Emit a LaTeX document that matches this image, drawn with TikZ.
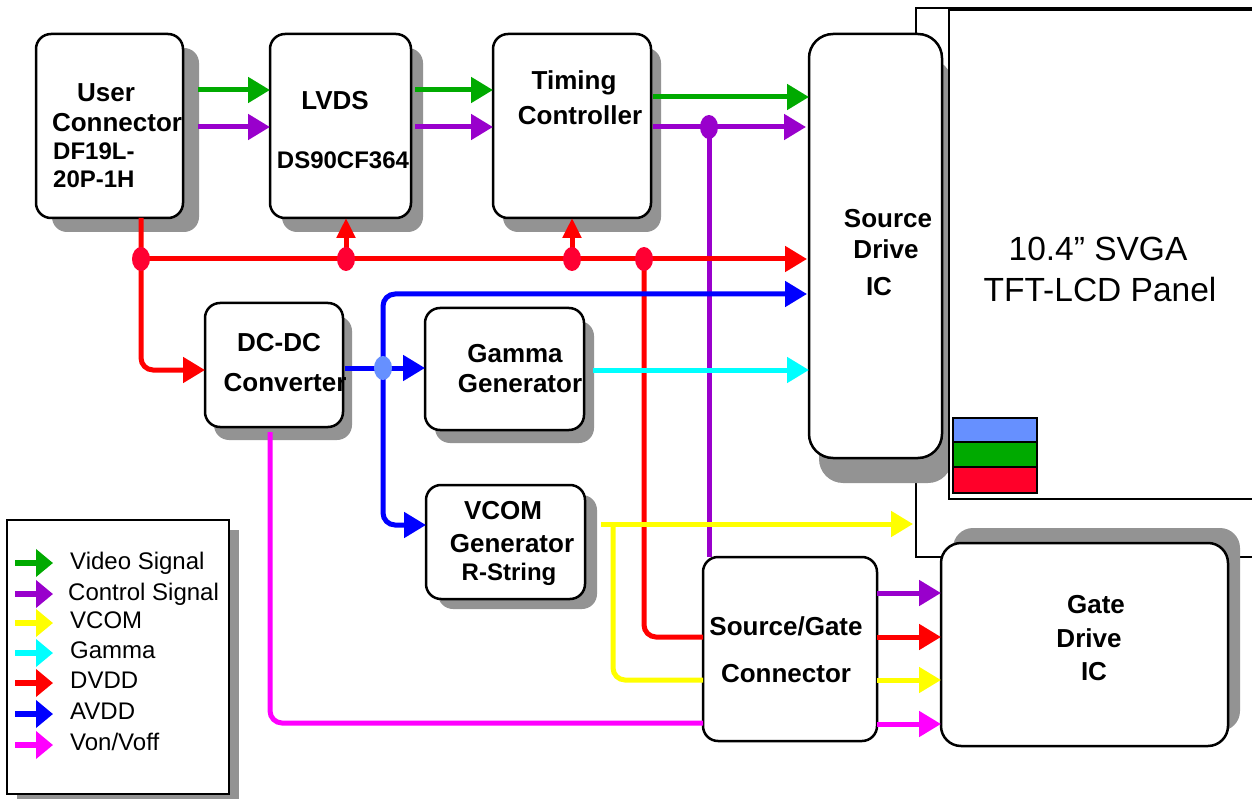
\documentclass[tikz,border=0pt]{standalone}
\usepackage{fontspec}
\setmainfont{Liberation Sans}
\usetikzlibrary{arrows.meta,shadows,calc,shapes.geometric}
\definecolor{cgreen}{HTML}{00AA00}
\definecolor{cpurple}{HTML}{9900CC}
\definecolor{cyellow}{HTML}{FFFF00}
\definecolor{ccyan}{HTML}{00FFFF}
\definecolor{cred}{HTML}{FF0000}
\definecolor{cblue}{HTML}{0000FF}
\definecolor{cmag}{HTML}{FF00FF}
\definecolor{cdot}{HTML}{FF0033}
\definecolor{cbdot}{HTML}{6690FF}
\definecolor{shgray}{HTML}{939393}
\definecolor{pblue}{HTML}{6690FF}
\definecolor{pred}{HTML}{FF0029}
\begin{document}
\begin{tikzpicture}[x=1pt,y=-1pt,
  blk/.style={draw=black, line width=2.5pt, fill=white, rounded corners=15pt, inner sep=0pt, outer sep=0pt},
  shd/.style 2 args={drop shadow={shadow xshift=#1pt, shadow yshift=#2pt, fill=shgray, opacity=1}},
  lbl/.style={font=\fontsize{26}{28}\selectfont\bfseries, anchor=base, inner sep=0pt},
  sml/.style={font=\fontsize{24}{26}\selectfont\bfseries, anchor=base, inner sep=0pt},
  pnl/.style={font=\fontsize{33.5}{36}\selectfont, anchor=base, inner sep=0pt},
  lgt/.style={font=\fontsize{24}{26}\selectfont, anchor=base west, inner sep=0pt},
  wire/.style={line width=5pt},
  sig/.style={line width=5pt, -{Triangle[length=22pt,width=25pt]}},
  upsig/.style={line width=5pt, -{Triangle[length=20pt,width=18pt]}},
  lgsig/.style={line width=6pt, -{Triangle[length=17pt,width=27pt]}},
  jdot/.style={ellipse, minimum width=18pt, minimum height=24pt, inner sep=0pt, draw=none}
]
\useasboundingbox (0,0) rectangle (1252,799);
\clip (0,0) rectangle (1252,799);
\fill[white] (0,0) rectangle (1252,799);

% panel frame and source drive IC
\node[draw, line width=2pt, minimum width=360pt, minimum height=549pt, inner sep=0pt, anchor=north west] (frame) at (915,7) {};
\node[blk, rounded corners=24pt, shd={10}{-25}, minimum width=133pt, minimum height=424pt] (sdi) at (875.5,246) {};
\node[draw, fill=white, line width=2pt, minimum width=330pt, minimum height=489pt, inner sep=0pt, anchor=north west] (panel) at (948,9) {};
\draw[line width=2.5pt, fill=pblue] (953,418) rectangle (1037,442);
\draw[line width=2.5pt, fill=cgreen] (953,442) rectangle (1037,467);
\draw[line width=2.5pt, fill=pred] (953,467) rectangle (1037,493);
\node[pnl] (p1) at (1098,261) {10.4” SVGA};
\node[pnl] (p2) at (1100,302) {TFT-LCD Panel};

% boxes
\node[blk, shd={16}{-14}, minimum width=147pt, minimum height=184pt] (uc) at (109.5,126) {};
\node[blk, shd={12}{-14}, minimum width=141pt, minimum height=184pt] (lvds) at (340.5,126) {};
\node[blk, shd={10}{-14}, minimum width=158pt, minimum height=184pt] (tc) at (572,126) {};
\node[blk, shd={9}{-13}, minimum width=138pt, minimum height=124pt] (dc) at (274,365) {};
\node[blk, shd={10}{-13}, minimum width=159pt, minimum height=122pt] (gam) at (504.5,369) {};
\node[blk, shd={12}{-10}, minimum width=159pt, minimum height=114pt] (vcom) at (505.5,542) {};
\node[blk, minimum width=174pt, minimum height=184pt] (sgc) at (790,649) {};
\node[blk, rounded corners=20pt, shd={12}{15}, minimum width=287pt, minimum height=203pt] (gdi) at (1084.5,644.5) {};
\node[draw, line width=2.5pt, fill=white, shd={10}{-10}, minimum width=222pt, minimum height=274pt, inner sep=0pt] (leg) at (118,657) {};

% box texts
\node[lbl] (uc1) at (106,102) {User};
\node[lbl] (uc2) at (117,132) {Connector};
\node[sml, anchor=base west] (uc3) at (53,160) {DF19L-};
\node[sml, anchor=base west] (uc4) at (53,188) {20P-1H};
\node[lbl] (lv1) at (335,110) {LVDS};
\node[sml] (lv2) at (343,169) {DS90CF364};
\node[lbl] (tc1) at (574,90) {Timing};
\node[lbl] (tc2) at (580,125) {Controller};
\node[lbl] (sd1) at (888,228) {Source};
\node[lbl] (sd2) at (886,259) {Drive};
\node[lbl] (sd3) at (879,296) {IC};
\node[lbl] (dc1) at (279,352) {DC-DC};
\node[lbl] (dc2) at (285,391) {Converter};
\node[lbl] (gm1) at (515,362) {Gamma};
\node[lbl] (gm2) at (520,392) {Generator};
\node[lbl] (vc1) at (503,519) {VCOM};
\node[lbl] (vc2) at (512,552) {Generator};
\node[sml] (vc3) at (509,580) {R-String};
\node[lbl] (sg1) at (786,635) {Source/Gate};
\node[lbl] (sg2) at (786,682) {Connector};
\node[lbl] (gd1) at (1096,613) {Gate};
\node[lbl] (gd2) at (1089,647) {Drive};
\node[lbl] (gd3) at (1094,680) {IC};

% junction coordinates
\coordinate (rj1) at (141,259);
\coordinate (rj2) at (346,259);
\coordinate (rj3) at (572,259);
\coordinate (rj4) at (644,259);
\coordinate (pj) at (709,127);
\coordinate (bj) at (383,368);
\coordinate (yj) at (613,524);
\coordinate (mj) at (270,723);

% video / control
\draw[sig, cgreen] ($(uc.east |- 0,90)+(15,0)$) -- (lvds.west |- 0,90);
\draw[sig, cpurple] ($(uc.east |- 0,127)+(15,0)$) -- (lvds.west |- 0,127);
\draw[sig, cgreen] ($(lvds.east |- 0,90)+(4,0)$) -- (tc.west |- 0,90);
\draw[sig, cpurple] ($(lvds.east |- 0,127)+(4,0)$) -- (tc.west |- 0,127);
\draw[sig, cgreen] ($(tc.east |- 0,97)+(2,0)$) -- (sdi.west |- 0,97);
\draw[sig, cpurple] ($(tc.east |- 0,127)+(2,0)$) -- ($(sdi.west |- 0,127)+(-3,0)$);
\draw[wire, cpurple] (pj) -- (pj |- sgc.north);

% DVDD
\draw[sig, cred, rounded corners=12pt] (uc.south -| rj1) -- (rj1) -- (rj1 |- 0,370) -- (dc.west |- 0,370);
\draw[sig, cred] (rj1) -- ($(sdi.west |- rj1)+(-2,0)$);
\draw[upsig, cred] (rj2) -- (rj2 |- lvds.south);
\draw[upsig, cred] (rj3) -- (rj3 |- tc.south);
\draw[wire, cred, rounded corners=12pt] (rj4) -- (rj4 |- 0,637) -- (sgc.west |- 0,637);

% AVDD
\draw[sig, cblue] ($(dc.east |- bj)+(2,0)$) -- (gam.west |- bj);
\draw[sig, cblue, rounded corners=12pt] (bj) -- (bj |- 0,294) -- ($(sdi.west |- 0,294)+(-2,0)$);
\draw[sig, cblue, rounded corners=12pt] (bj) -- (bj |- 0,525) -- (vcom.west |- 0,525);

% Gamma
\draw[sig, ccyan] ($(gam.east |- 0,370)+(9,0)$) -- (sdi.west |- 0,370);

% VCOM
\draw[sig, cyellow] ($(vcom.east |- 0,524)+(16,0)$) -- ($(frame.west |- 0,524)+(-2,0)$);
\draw[wire, cyellow, rounded corners=12pt] (yj) -- (yj |- 0,680) -- (sgc.west |- 0,680);

% Von/Voff
\draw[wire, cmag, rounded corners=12pt] ($(dc.south -| mj)+(0,5)$) -- (mj) -- (sgc.west |- mj);

% connector to gate IC
\draw[sig, cpurple] (sgc.east |- 0,593) -- (gdi.west |- 0,593);
\draw[sig, cred] (sgc.east |- 0,637) -- (gdi.west |- 0,637);
\draw[sig, cyellow] (sgc.east |- 0,680) -- (gdi.west |- 0,680);
\draw[sig, cmag] (sgc.east |- 0,724) -- (gdi.west |- 0,724);

% junction dots
\node[jdot, fill=cdot] (d1) at (rj1) {};
\node[jdot, fill=cdot] (d2) at (rj2) {};
\node[jdot, fill=cdot] (d3) at (rj3) {};
\node[jdot, fill=cdot] (d4) at (rj4) {};
\node[jdot, fill=cpurple] (d5) at (pj) {};
\node[jdot, fill=cbdot] (d6) at (bj) {};

% legend
\node[lgt] (l1) at (70,569) {Video Signal};
\node[lgt] (l2) at (68,600) {Control Signal};
\node[lgt] (l3) at (70,628) {VCOM};
\node[lgt] (l4) at (70,658) {Gamma};
\node[lgt] (l5) at (70,688) {DVDD};
\node[lgt] (l6) at (70,719) {AVDD};
\node[lgt] (l7) at (70,750) {Von/Voff};
\draw[lgsig, cgreen] ($(l1.base west)+(-55,-6)$) -- ++(38,0);
\draw[lgsig, cpurple] ($(l2.base west)+(-53,-6)$) -- ++(38,0);
\draw[lgsig, cyellow] ($(l3.base west)+(-55,-5)$) -- ++(38,0);
\draw[lgsig, ccyan] ($(l4.base west)+(-55,-5)$) -- ++(38,0);
\draw[lgsig, cred] ($(l5.base west)+(-55,-5)$) -- ++(38,0);
\draw[lgsig, cblue] ($(l6.base west)+(-55,-5)$) -- ++(38,0);
\draw[lgsig, cmag] ($(l7.base west)+(-55,-5)$) -- ++(38,0);
\end{tikzpicture}
\end{document}
